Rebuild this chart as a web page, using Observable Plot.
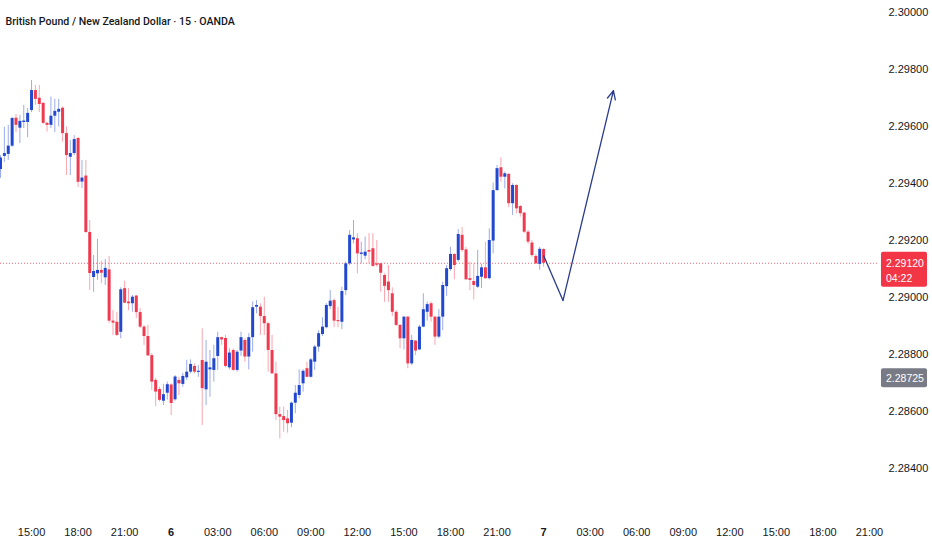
<!DOCTYPE html>
<html>
<head>
<meta charset="utf-8">
<script src="https://cdn.jsdelivr.net/npm/d3@7"></script>
<script src="https://cdn.jsdelivr.net/npm/@observablehq/plot@0.6"></script>
<style>
  html, body { margin: 0; padding: 0; background: #ffffff; }
  #chart { width: 932px; height: 550px; }
</style>
</head>
<body>
<div id="chart"></div>
<script>
// ---------- DATA ----------
const title = "British Pound / New Zealand Dollar · 15 · OANDA";
const firstCandle = Date.UTC(2024, 2, 5, 13, 0); // 15-minute candles from day 5, 13:00
const candleMinutes = 15;

const opens = [
  2.29449,2.29495,2.29502,2.29531,2.29629,2.29594,2.29614,2.29614,2.29656,2.29726,
  2.29699,2.29681,2.29611,2.29604,2.29636,2.29650,2.29664,2.29575,2.29492,2.29505,
  2.29558,2.29405,2.29426,2.29228,2.29070,2.29083,2.29095,2.29069,2.29097,2.28917,
  2.28913,2.28878,2.29031,2.28984,2.28978,2.29005,2.28947,2.28896,2.28863,2.28796,
  2.28709,2.28677,2.28636,2.28664,2.28693,2.28641,2.28709,2.28695,2.28718,2.28738,
  2.28758,2.28737,2.28779,2.28676,2.28746,2.28744,2.28793,2.28859,2.28856,2.28753,
  2.28814,2.28744,2.28812,2.28849,2.28791,2.28859,2.28966,2.28966,2.28933,2.28908,
  2.28814,2.28732,2.28589,2.28582,2.28574,2.28559,2.28629,2.28656,2.28697,2.28750,
  2.28720,2.28773,2.28826,2.28870,2.28894,2.28968,2.28989,2.28919,2.28913,2.29024,
  2.29118,2.29202,2.29206,2.29151,2.29145,2.29165,2.29171,2.29118,2.29118,2.29077,
  2.29054,2.29013,2.28948,2.28902,2.28855,2.28931,2.28767,2.28847,2.28816,2.28896,
  2.28948,2.28978,2.28931,2.28861,2.28931,2.29038,2.29098,2.29151,2.29130,2.29218,
  2.29167,2.29066,2.29056,2.29036,2.29071,2.29104,2.29066,2.29198,2.29375,2.29455,
  2.29422,2.29432,2.29329,2.29393,2.29319,2.29296,2.29229,2.29191,2.29144,2.29116,
  2.29168
];
const highs = [
  2.29498,2.29597,2.29604,2.29632,2.29642,2.29639,2.29674,2.29663,2.29761,2.29744,
  2.29744,2.29684,2.29615,2.29703,2.29695,2.29695,2.29668,2.29598,2.29551,2.29568,
  2.29561,2.29481,2.29481,2.29270,2.29147,2.29204,2.29127,2.29133,2.29144,2.28954,
  2.28948,2.29034,2.29057,2.29031,2.29007,2.29007,2.28961,2.28902,2.28902,2.28803,
  2.28716,2.28685,2.28695,2.28703,2.28697,2.28726,2.28720,2.28734,2.28779,2.28781,
  2.28767,2.28761,2.28890,2.28849,2.28814,2.28832,2.28878,2.28861,2.28867,2.28820,
  2.28820,2.28814,2.28878,2.28855,2.28873,2.28984,2.28989,2.28978,2.29001,2.28913,
  2.28867,2.28773,2.28615,2.28615,2.28604,2.28633,2.28691,2.28746,2.28746,2.28773,
  2.28786,2.28832,2.28884,2.28929,2.28978,2.29024,2.28995,2.28966,2.29036,2.29124,
  2.29235,2.29270,2.29224,2.29194,2.29212,2.29224,2.29224,2.29200,2.29120,2.29083,
  2.29112,2.29034,2.28954,2.28905,2.28933,2.28933,2.28867,2.28849,2.28902,2.29013,
  2.28984,2.28984,2.28933,2.28958,2.29054,2.29112,2.29176,2.29153,2.29238,2.29245,
  2.29176,2.29124,2.29118,2.29165,2.29116,2.29194,2.29241,2.29401,2.29463,2.29490,
  2.29440,2.29434,2.29399,2.29395,2.29323,2.29299,2.29235,2.29200,2.29151,2.29176,
  2.29172
];
const lows = [
  2.29418,2.29474,2.29481,2.29526,2.29579,2.29540,2.29593,2.29561,2.29649,2.29674,
  2.29649,2.29607,2.29580,2.29593,2.29579,2.29598,2.29545,2.29428,2.29428,2.29498,
  2.29386,2.29382,2.29225,2.29025,2.29018,2.29060,2.29049,2.29042,2.28910,2.28867,
  2.28863,2.28855,2.28978,2.28954,2.28948,2.28926,2.28891,2.28832,2.28793,2.28674,
  2.28617,2.28633,2.28621,2.28640,2.28586,2.28636,2.28656,2.28685,2.28709,2.28732,
  2.28732,2.28720,2.28551,2.28621,2.28650,2.28703,2.28744,2.28832,2.28753,2.28746,
  2.28741,2.28738,2.28793,2.28773,2.28746,2.28808,2.28943,2.28867,2.28867,2.28738,
  2.28731,2.28568,2.28504,2.28527,2.28524,2.28543,2.28592,2.28645,2.28668,2.28718,
  2.28717,2.28744,2.28808,2.28863,2.28890,2.28957,2.28894,2.28894,2.28887,2.29007,
  2.29112,2.29188,2.29083,2.29118,2.29132,2.29118,2.29106,2.29106,2.29019,2.28983,
  2.28983,2.28933,2.28898,2.28820,2.28816,2.28750,2.28761,2.28796,2.28814,2.28894,
  2.28917,2.28913,2.28832,2.28855,2.28884,2.29004,2.29092,2.29062,2.29124,2.29159,
  2.29060,2.29024,2.28992,2.29031,2.29031,2.29063,2.29062,2.29153,2.29373,2.29405,
  2.29381,2.29315,2.29288,2.29294,2.29282,2.29224,2.29186,2.29141,2.29116,2.29095,
  2.29106
];
const closes = [
  2.29489,2.29505,2.29531,2.29628,2.29604,2.29618,2.29619,2.29646,2.29726,2.29695,
  2.29677,2.29611,2.29604,2.29636,2.29653,2.29660,2.29575,2.29498,2.29505,2.29554,
  2.29404,2.29419,2.29228,2.29084,2.29091,2.29095,2.29085,2.29102,2.28917,2.28910,
  2.28867,2.29027,2.28980,2.28978,2.29001,2.28947,2.28896,2.28863,2.28795,2.28703,
  2.28668,2.28639,2.28659,2.28694,2.28628,2.28721,2.28697,2.28723,2.28738,2.28765,
  2.28738,2.28741,2.28680,2.28773,2.28753,2.28785,2.28859,2.28851,2.28758,2.28805,
  2.28744,2.28808,2.28859,2.28791,2.28859,2.28964,2.28972,2.28933,2.28908,2.28814,
  2.28732,2.28589,2.28580,2.28568,2.28557,2.28629,2.28664,2.28691,2.28741,2.28720,
  2.28781,2.28826,2.28873,2.28896,2.28972,2.28987,2.28917,2.28915,2.29021,2.29118,
  2.29218,2.29209,2.29153,2.29156,2.29159,2.29159,2.29109,2.29113,2.29085,2.29039,
  2.29024,2.28948,2.28902,2.28855,2.28931,2.28767,2.28849,2.28812,2.28896,2.28957,
  2.28975,2.28931,2.28861,2.28931,2.29042,2.29101,2.29151,2.29112,2.29221,2.29165,
  2.29062,2.29060,2.29042,2.29074,2.29104,2.29066,2.29200,2.29375,2.29452,2.29422,
  2.29434,2.29329,2.29393,2.29311,2.29294,2.29229,2.29194,2.29147,2.29118,2.29169,
  2.29120
];

const currentPrice = 2.29120;
const countdown = "04:22";
const markerPrice = 2.28725;

const yTicks = [2.28400, 2.28600, 2.28800, 2.29000, 2.29200, 2.29400, 2.29600, 2.29800, 2.30000];

// drawn projection arrow (times and prices of its three vertices)
const arrowTimes = [new Date(Date.UTC(2024, 2, 7, 0, 0)), new Date(Date.UTC(2024, 2, 7, 1, 15)), new Date(Date.UTC(2024, 2, 7, 4, 30))];
const arrowPrices = [2.29147, 2.28989, 2.29726];

// visible window
const xDomain = [new Date(Date.UTC(2024, 2, 5, 13, 0)), new Date(Date.UTC(2024, 2, 7, 21, 35))];
const yDomain = [2.28235, 2.30042];

// ---------- BUILD ----------
const upColor = "#2148cf";
const downColor = "#ef3a4f";
const arrowColor = "#2a3b8f";
const textColor = "#131722";

const candles = opens.map((o, i) => ({
  t: new Date(firstCandle + i * candleMinutes * 60000),
  open: o, high: highs[i], low: lows[i], close: closes[i]
}));
const colorOf = d => d.close >= d.open ? upColor : downColor;

const allTicks = d3.utcHour.every(3).range(new Date(Date.UTC(2024, 2, 5, 15, 0)), new Date(Date.UTC(2024, 2, 7, 21, 1)));
const hourTicks = allTicks.filter(d => d.getUTCHours() !== 0);
const dayTicks = allTicks.filter(d => d.getUTCHours() === 0);

const width = 932, height = 550;
const marginRight = 54, marginBottom = 35;

const seg1 = [{x1: arrowTimes[0], y1: arrowPrices[0], x2: arrowTimes[1], y2: arrowPrices[1]}];
const seg2 = [{x1: arrowTimes[1], y1: arrowPrices[1], x2: arrowTimes[2], y2: arrowPrices[2]}];

const chart = Plot.plot({
  width, height,
  marginLeft: 0, marginRight, marginTop: 0, marginBottom,
  style: {fontFamily: "'Liberation Sans', Arial, sans-serif", fontSize: "11px", color: textColor, background: "#ffffff"},
  x: {type: "utc", domain: xDomain},
  y: {domain: yDomain},
  marks: [
    Plot.ruleY([currentPrice], {stroke: "#f23645", strokeOpacity: 0.75, strokeWidth: 1, strokeDasharray: "1,2"}),
    Plot.ruleX(candles, {x: "t", y1: "low", y2: "high", stroke: colorOf, strokeOpacity: 0.45, strokeWidth: 1}),
    Plot.ruleX(candles, {x: "t", y1: "open", y2: "close", stroke: colorOf, strokeWidth: 3}),
    Plot.link(seg1, {x1: "x1", y1: "y1", x2: "x2", y2: "y2", stroke: arrowColor, strokeWidth: 1.3}),
    Plot.arrow(seg2, {x1: "x1", y1: "y1", x2: "x2", y2: "y2", stroke: arrowColor, strokeWidth: 1.3, headLength: 11, headAngle: 50}),
    Plot.axisY({anchor: "right", ticks: yTicks, tickSize: 0, tickPadding: 10, tickFormat: d => d.toFixed(5), fill: textColor, fontSize: 11}),
    Plot.axisX({ticks: hourTicks, tickSize: 0, tickPadding: 13, tickFormat: d3.utcFormat("%H:%M"), fill: textColor, fontSize: 11}),
    Plot.axisX({ticks: dayTicks, tickSize: 0, tickPadding: 13, tickFormat: d3.utcFormat("%-d"), fill: textColor, fontSize: 11, fontWeight: "bold"}),
    Plot.text([title], {frameAnchor: "top-left", dx: 5, dy: 17, textAnchor: "start", fill: textColor, fontSize: 10.6, fontWeight: 500, fontFamily: "Roboto, 'Liberation Sans', sans-serif"})
  ]
});

// price labels on the right axis, positioned with the chart's own y scale
const ys = chart.scale("y");
const svg = d3.select(chart);
const boxX = width - marginRight + 3, boxW = 46;
const yCur = ys.apply(currentPrice);
const gCur = svg.append("g").attr("text-anchor", "start").attr("font-size", 10.5).attr("fill", "#ffffff");
gCur.append("rect").attr("x", boxX).attr("y", yCur - 11).attr("width", boxW).attr("height", 35).attr("rx", 2).attr("fill", "#f23645");
gCur.append("text").attr("x", boxX + 5).attr("y", yCur + 4).text(currentPrice.toFixed(5));
gCur.append("text").attr("x", boxX + 5).attr("y", yCur + 19).text(countdown);

const yMark = ys.apply(markerPrice);
const gMark = svg.append("g").attr("text-anchor", "start").attr("font-size", 10.5).attr("fill", "#ffffff");
gMark.append("rect").attr("x", boxX).attr("y", yMark - 7).attr("width", boxW).attr("height", 19).attr("rx", 2).attr("fill", "#787b86");
gMark.append("text").attr("x", boxX + 5).attr("y", yMark + 7).text(markerPrice.toFixed(5));

document.getElementById("chart").appendChild(chart);
</script>
</body>
</html>
